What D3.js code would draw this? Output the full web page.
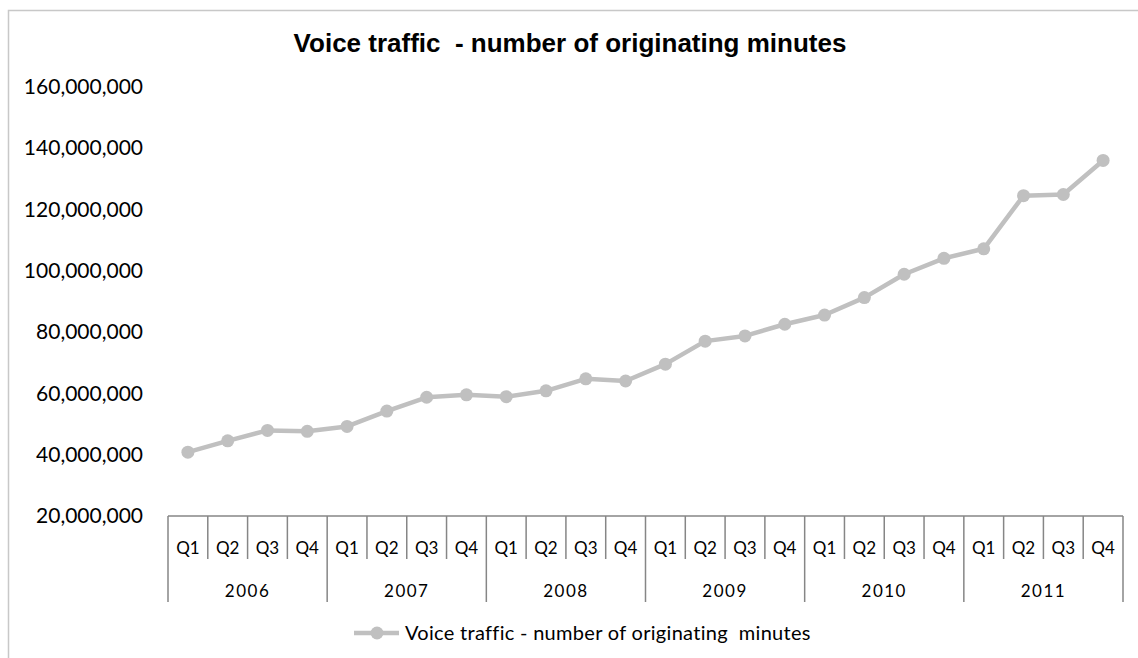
<!DOCTYPE html>
<html lang="en">
<head>
<meta charset="UTF-8">
<title>Voice traffic</title>
<script src="https://d3js.org/d3.v7.min.js"></script>
<style>
  body { margin: 0; background: #fff; }
  .ylab { font-family: Lato, "Liberation Sans", sans-serif; font-size: 21px; fill: #000; }
  .qlab { font-family: Lato, "Liberation Sans", sans-serif; font-size: 17px; fill: #000; }
  .yrlab { font-family: Lato, "Liberation Sans", sans-serif; font-size: 17px; fill: #000; letter-spacing: 1.5px; }
  .title { font-family: "Liberation Sans", Arial, sans-serif; font-size: 26px; font-weight: bold; fill: #000; }
  .legend { font-family: Lato, "Liberation Sans", sans-serif; font-size: 20px; fill: #000; letter-spacing: 0.3px; }
</style>
</head>
<body>
<div id="chart"></div>
<script>
const years = ["2006", "2007", "2008", "2009", "2010", "2011"];
const quarters = ["Q1", "Q2", "Q3", "Q4"];
const minutes = [
  40.8e6, 44.5e6, 47.9e6, 47.6e6,
  49.2e6, 54.2e6, 58.7e6, 59.5e6,
  58.9e6, 60.8e6, 64.7e6, 64.0e6,
  69.5e6, 77.0e6, 78.7e6, 82.5e6,
  85.5e6, 91.2e6, 98.8e6, 104.0e6,
  107.1e6, 124.4e6, 124.8e6, 135.9e6
];
const yTicks = [20e6, 40e6, 60e6, 80e6, 100e6, 120e6, 140e6, 160e6];
const seriesName = "Voice traffic - number of originating  minutes";
const chartTitle = "Voice traffic  - number of originating minutes";

const width = 1138, height = 658;
const lineColor = "#c0c0c0", axisColor = "#868686";

const svg = d3.select("#chart").append("svg")
  .attr("width", width).attr("height", height);

// outer chart border
svg.append("rect")
  .attr("x", 8.5).attr("y", 10.5)
  .attr("width", 1140).attr("height", 700)
  .attr("fill", "none").attr("stroke", "#c8c8c8").attr("stroke-width", 1.5);

const cats = [];
years.forEach(y => quarters.forEach(q => cats.push(y + " " + q)));

const x = d3.scaleBand().domain(cats).range([168, 1123]).padding(0);
const yScale = d3.scaleLinear().domain([20e6, 160e6]).range([516, 86.5]);
const fmt = d3.format(",");

// title
svg.append("text").attr("class", "title")
  .attr("x", 570).attr("y", 52)
  .attr("text-anchor", "middle")
  .style("white-space", "pre")
  .text(chartTitle);

// y labels (no axis line)
svg.append("g").selectAll("text").data(yTicks).join("text")
  .attr("class", "ylab")
  .attr("x", 143).attr("y", d => yScale(d))
  .attr("dy", "0.35em")
  .attr("text-anchor", "end")
  .text(d => fmt(d));

// category axis
const ax = svg.append("g").attr("stroke", axisColor).attr("stroke-width", 1.5);
ax.append("line")
  .attr("x1", x.range()[0]).attr("x2", x.range()[1])
  .attr("y1", 516).attr("y2", 516);
const bounds = d3.range(cats.length + 1);
ax.selectAll("line.sep").data(bounds).join("line")
  .attr("class", "sep")
  .attr("x1", i => i < cats.length ? x(cats[i]) : x.range()[1])
  .attr("x2", i => i < cats.length ? x(cats[i]) : x.range()[1])
  .attr("y1", 516)
  .attr("y2", i => i % 4 === 0 ? 602 : 559);

svg.append("g").selectAll("text").data(cats).join("text")
  .attr("class", "qlab")
  .attr("x", d => x(d) + x.bandwidth() / 2)
  .attr("y", 554)
  .attr("text-anchor", "middle")
  .text(d => d.split(" ")[1]);

svg.append("g").selectAll("text").data(years).join("text")
  .attr("class", "yrlab")
  .attr("x", d => x(d + " Q1") + x.bandwidth() * 2)
  .attr("y", 597)
  .attr("text-anchor", "middle")
  .text(d => d);

// series
const pts = cats.map((c, i) => ({ c, v: minutes[i] }));
svg.append("path").datum(pts)
  .attr("fill", "none").attr("stroke", lineColor).attr("stroke-width", 4.5)
  .attr("stroke-linejoin", "round")
  .attr("d", d3.line().x(d => x(d.c) + x.bandwidth() / 2).y(d => yScale(d.v)));
svg.append("g").selectAll("circle").data(pts).join("circle")
  .attr("cx", d => x(d.c) + x.bandwidth() / 2)
  .attr("cy", d => yScale(d.v))
  .attr("r", 6.5)
  .attr("fill", lineColor);

// legend
const lg = svg.append("g").attr("transform", "translate(354,633)");
lg.append("line").attr("x1", 0).attr("x2", 45).attr("y1", 0).attr("y2", 0)
  .attr("stroke", lineColor).attr("stroke-width", 4.5);
lg.append("circle").attr("cx", 23).attr("cy", 0).attr("r", 6.5).attr("fill", lineColor);
lg.append("text").attr("class", "legend")
  .attr("x", 51).attr("y", 0).attr("dy", "0.35em")
  .style("white-space", "pre")
  .text(seriesName);
</script>
</body>
</html>
